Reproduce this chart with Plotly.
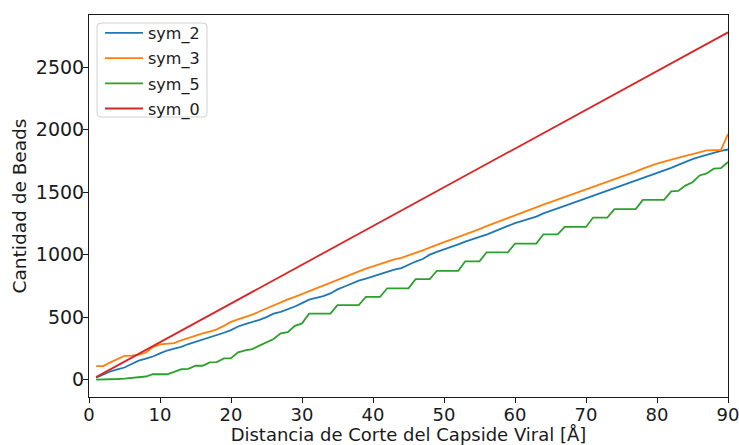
import plotly.graph_objects as go

distancia = list(range(1, 91))

sym_2 = [16, 40, 65, 82, 97, 125, 152, 168, 185, 210,
         233, 248, 262, 285, 303, 318, 333, 352, 375, 396,
         425, 444, 460, 478, 500, 528, 543, 562, 585, 612,
         640, 655, 668, 690, 722, 745, 770, 792, 808, 825,
         845, 865, 880, 892, 920, 945, 965, 1000, 1022, 1040,
         1060, 1082, 1104, 1125, 1142, 1160, 1185, 1205, 1230, 1252,
         1270, 1288, 1305, 1330, 1352, 1368, 1390, 1410, 1430, 1452,
         1472, 1490, 1512, 1530, 1552, 1572, 1592, 1612, 1632, 1652,
         1672, 1695, 1718, 1742, 1765, 1782, 1800, 1815, 1830, 1842]

sym_3 = [108, 108, 138, 165, 190, 192, 200, 215, 260, 282,
         287, 292, 315, 335, 355, 370, 385, 402, 430, 462,
         482, 500, 520, 545, 570, 596, 620, 642, 662, 685,
         710, 733, 755, 778, 802, 825, 848, 868, 888, 906,
         925, 945, 962, 975, 992, 1015, 1035, 1058, 1080, 1100,
         1120, 1140, 1160, 1182, 1205, 1228, 1250, 1272, 1295, 1318,
         1340, 1362, 1382, 1400, 1420, 1440, 1460, 1480, 1500, 1520,
         1540, 1562, 1582, 1602, 1625, 1645, 1665, 1688, 1710, 1728,
         1745, 1762, 1778, 1790, 1805, 1820, 1834, 1836, 1836, 1965]

sym_5 = [0, 0, 2, 5, 8, 12, 19, 25, 43, 43,
         43, 62, 83, 86, 111, 111, 138, 140, 170, 172,
         218, 235, 245, 272, 300, 325, 370, 380, 430, 450,
         528, 528, 528, 528, 596, 596, 596, 596, 663, 663,
         663, 731, 731, 731, 731, 804, 804, 804, 871, 871,
         871, 871, 947, 947, 947, 1019, 1019, 1019, 1019, 1089,
         1089, 1089, 1089, 1163, 1163, 1163, 1222, 1222, 1222, 1222,
         1297, 1297, 1297, 1365, 1365, 1365, 1365, 1438, 1438, 1438,
         1438, 1507, 1510, 1553, 1580, 1634, 1650, 1688, 1692, 1742]

sym_0 = [20, 51, 82, 113, 144, 175, 206, 237, 268, 299,
         330, 361, 392, 423, 454, 485, 516, 547, 578, 609,
         640, 671, 702, 733, 764, 795, 826, 857, 888, 919,
         950, 981, 1012, 1043, 1074, 1105, 1136, 1167, 1198, 1229,
         1260, 1291, 1322, 1353, 1384, 1415, 1446, 1477, 1508, 1539,
         1570, 1601, 1632, 1663, 1694, 1725, 1756, 1787, 1818, 1849,
         1880, 1911, 1942, 1973, 2004, 2035, 2066, 2097, 2128, 2159,
         2190, 2221, 2252, 2283, 2314, 2345, 2376, 2407, 2438, 2469,
         2500, 2531, 2562, 2593, 2624, 2655, 2686, 2717, 2748, 2779]

series_names = ["sym_2", "sym_3", "sym_5", "sym_0"]
series_values = [sym_2, sym_3, sym_5, sym_0]
colors = ["#1f77b4", "#ff7f0e", "#2ca02c", "#d62728"]

x_ticks = [0, 10, 20, 30, 40, 50, 60, 70, 80, 90]
y_ticks = [0, 500, 1000, 1500, 2000, 2500]

fig = go.Figure()
for name, vals, c in zip(series_names, series_values, colors):
    fig.add_trace(go.Scatter(x=distancia, y=vals, mode="lines", name=name,
                             legendgroup=name,
                             line=dict(color=c, width=1.8)))

# legend frame (matplotlib-style rounded box), in paper coordinates
W, H = 639.0, 382.0
lx0, lx1 = 8 / W, 118 / W
ly0, ly1 = 1 - 102 / H, 1 - 8 / H
rx, ry = 4 / W, 4 / H
frame_path = (f"M{lx0+rx},{ly1} L{lx1-rx},{ly1} Q{lx1},{ly1} {lx1},{ly1-ry} "
              f"L{lx1},{ly0+ry} Q{lx1},{ly0} {lx1-rx},{ly0} L{lx0+rx},{ly0} "
              f"Q{lx0},{ly0} {lx0},{ly0+ry} L{lx0},{ly1-ry} Q{lx0},{ly1} {lx0+rx},{ly1} Z")
fig.add_shape(type="path", path=frame_path, xref="paper", yref="paper",
              line=dict(color="#d0d0d0", width=1),
              fillcolor="rgba(255,255,255,0.8)", layer="above")

font_family = "DejaVu Sans"
fig.update_layout(
    width=739, height=445,
    margin=dict(l=89, r=11, t=15, b=48, pad=0),
    paper_bgcolor="white", plot_bgcolor="white",
    font=dict(family=font_family, size=18, color="#1a1a1a"),
    showlegend=True,
    legend=dict(x=11 / W, y=1 - 1 / H, xanchor="left", yanchor="top",
                bgcolor="rgba(0,0,0,0)", borderwidth=0,
                font=dict(size=16, family=font_family),
                itemwidth=38, tracegroupgap=1.4),
)
fig.update_xaxes(range=[0, 90], tickvals=x_ticks, ticks="outside", ticklen=5,
                 tickcolor="#1a1a1a", showline=True, linecolor="#1a1a1a", linewidth=1,
                 mirror=True, showgrid=False, zeroline=False, automargin=False,
                 ticklabeloverflow="allow", ticklabelstandoff=-4,
                 tickfont=dict(size=18),
                 title=dict(text="Distancia de Corte del Capside Viral [Å]",
                            font=dict(size=18), standoff=4))
fig.update_yaxes(range=[-139, 2918], tickvals=y_ticks, ticks="outside", ticklen=5,
                 tickcolor="#1a1a1a", showline=True, linecolor="#1a1a1a", linewidth=1,
                 mirror=True, showgrid=False, zeroline=False, automargin=False,
                 ticklabeloverflow="allow", ticklabelstandoff=-5,
                 tickfont=dict(size=19),
                 title=dict(text="Cantidad de Beads", font=dict(size=18.5), standoff=4))

fig.write_html("out.html", config={"displayModeBar": False},
               post_script="document.body.style.margin='0';document.body.style.overflow='hidden';")
